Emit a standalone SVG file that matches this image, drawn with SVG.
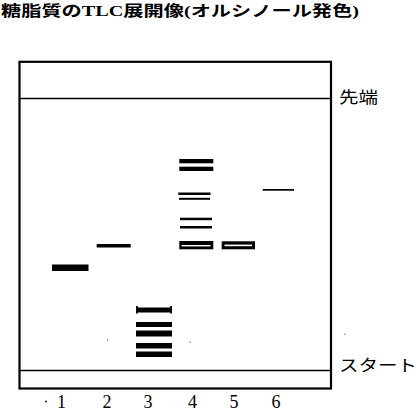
<svg xmlns="http://www.w3.org/2000/svg" width="420" height="410" viewBox="0 0 420 410">
<style>
.title{font-family:"Liberation Serif","Noto Sans CJK JP",serif;font-size:15px;font-weight:bold;fill:#000}
.lbl{font-family:"Noto Sans CJK JP",sans-serif;font-size:16px;fill:#000}
.num{font-family:"Liberation Serif",serif;font-size:18px;fill:#000;text-anchor:middle}
.band{fill:#000}
.ln{stroke:#000;fill:none}
.speck{fill:#000}
</style>
<rect width="420" height="410" fill="#fff"/>
<text class="title" x="1" y="15.5" textLength="358" lengthAdjust="spacingAndGlyphs">糖脂質のTLC展開像(オルシノール発色)</text>
<g id="plate">
<rect class="ln" x="19.5" y="61.8" width="311.5" height="326.7" stroke-width="2.2"/>
<line class="ln" x1="19.5" y1="98.5" x2="331" y2="98.5" stroke-width="1.7"/>
<line class="ln" x1="19.5" y1="370.5" x2="331" y2="370.5" stroke-width="1.6"/>
</g>
<g id="labels">
<text class="lbl" x="339" y="103" textLength="39" lengthAdjust="spacingAndGlyphs">先端</text>
<text class="lbl" x="339" y="370.5" textLength="78" lengthAdjust="spacingAndGlyphs">スタート</text>
</g>
<g id="lane1">
<rect class="band" x="52" y="264.5" width="36.5" height="6.5"/>
</g>
<g id="lane2">
<rect class="band" x="96.7" y="244" width="34" height="3.5"/>
</g>
<g id="lane3">
<rect class="band" x="136" y="307.5" width="36" height="5"/>
<rect class="band" x="136" y="306" width="1.8" height="7.5"/>
<rect class="band" x="170.2" y="306" width="1.8" height="7.5"/>
<rect class="band" x="136" y="322" width="36" height="5"/>
<rect class="band" x="136" y="330.5" width="36" height="6"/>
<rect class="band" x="136" y="343" width="36" height="5.5"/>
<rect class="band" x="136" y="351.5" width="36" height="5.5"/>
</g>
<g id="lane4">
<rect class="band" x="179.3" y="159" width="34" height="4.3"/>
<rect class="band" x="179.3" y="166.7" width="34" height="4.3"/>
<rect class="band" x="178.3" y="192.5" width="32.2" height="2.5"/>
<rect class="band" x="179" y="197.8" width="31" height="2"/>
<rect class="band" x="180" y="217.7" width="32" height="2.5"/>
<rect class="band" x="180" y="226" width="32" height="2.5"/>
<rect class="band" x="179.3" y="241" width="34" height="8.3"/>
<rect x="181.5" y="245" width="29" height="1.4" fill="#fff"/>
</g>
<g id="lane5">
<rect class="band" x="221.7" y="241.3" width="33.3" height="8"/>
<rect x="224.5" y="244.6" width="27.5" height="1.6" fill="#fff"/>
</g>
<g id="lane6">
<rect class="band" x="262.7" y="189" width="31.3" height="1.7"/>
</g>
<g id="numbers">
<text class="num" x="61.5" y="408">1</text>
<text class="num" x="107" y="408">2</text>
<text class="num" x="148" y="408">3</text>
<text class="num" x="192.5" y="408">4</text>
<text class="num" x="234" y="408">5</text>
<text class="num" x="276" y="408">6</text>
</g>
<g id="specks">
<circle class="speck" cx="46" cy="401.5" r="0.9"/>
<circle class="speck" cx="107.5" cy="340" r="0.6"/>
<circle class="speck" cx="190" cy="342" r="0.6"/>
<circle class="speck" cx="345" cy="334" r="0.6"/>
</g>
</svg>
